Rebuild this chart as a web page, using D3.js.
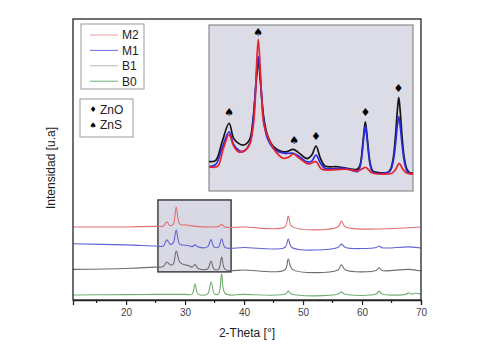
<!DOCTYPE html>
<html>
<head>
<meta charset="utf-8">
<script src="https://cdn.jsdelivr.net/npm/d3@7"></script>
<style>
  body { margin: 0; background: #fff; }
  svg { font-family: "Liberation Sans", Arial, sans-serif; }
</style>
</head>
<body>
<svg id="chart" width="489" height="352"></svg>
<script>
// main pattern, [2-theta, intensity] (stacked offsets included)
const b0Points = [[11,1.8],[20,1.9],[25,2.0],[30,2.0],[31.2,2.1],[31.7,5.7],[32.2,2.1],[33.8,2.1],[34.4,6.4],[35.0,2.1],[35.7,2.3],[36.2,9.3],[36.8,2.3],[40,2.0],[47.0,2.1],[47.5,3.2],[48.0,2.1],[56.0,2.1],[56.5,2.9],[57.0,2.1],[62.4,2.1],[62.9,3.2],[63.4,2.1],[67.5,2.1],[67.9,2.6],[68.3,2.1],[69.2,2.4],[70,2.0]]
const b1Points = [[11,10.9],[20,11.2],[25,11.7],[26.3,11.9],[26.9,13.5],[27.5,12.5],[28.0,12.8],[28.5,17.4],[29.1,13.5],[29.8,12.6],[30.5,12.3],[31.2,11.7],[31.7,12.6],[32.2,11.2],[33.8,11.0],[34.4,13.9],[34.9,11.0],[35.7,11.0],[36.2,15.3],[36.8,10.9],[40,10.7],[46.9,10.7],[47.5,14.6],[48.2,10.9],[55.9,10.7],[56.5,12.5],[57.2,10.7],[62.4,10.5],[62.9,11.5],[63.4,10.5],[67.9,10.9],[70,10.3]]
const m1Points = [[11,20.0],[20,19.6],[25,19.2],[26.3,19.2],[26.9,21.4],[27.5,19.8],[28.0,20.3],[28.5,24.9],[29.1,19.9],[30.5,19.4],[31.2,19.0],[31.7,19.6],[32.2,18.9],[33.8,18.9],[34.4,21.5],[34.9,18.9],[35.7,18.9],[36.2,21.8],[36.8,18.7],[40,18.7],[46.9,18.7],[47.5,21.7],[48.1,18.7],[55.9,18.7],[56.5,19.9],[57.2,18.7],[62.4,18.7],[62.9,19.2],[63.4,18.6],[67.9,18.9],[70,18.5]]
const m2Points = [[11,26.0],[20,26.0],[25,26.2],[26.3,26.3],[26.9,27.8],[27.4,26.5],[28.0,26.9],[28.5,33.1],[29.1,27.0],[30.2,26.7],[31.5,26.3],[35.7,26.2],[36.2,26.9],[36.7,26.0],[40,26.0],[46.9,26.0],[47.5,29.9],[48.1,26.2],[55.9,26.0],[56.5,28.1],[57.2,26.0],[70,26.0]]

// inset (zoomed 2-theta region)
const insetB1 = [[25.83,17.7],[26.2,18.5],[26.55,29.7],[26.93,40.8],[27.18,31.7],[27.45,28.7],[27.73,27.7],[28.05,31],[28.23,42],[28.43,68],[28.53,78.9],[28.63,68],[28.83,44],[29.03,33.7],[29.36,26.7],[29.82,23.7],[30.1,23.7],[30.45,25.1],[30.8,22.5],[31.2,19.5],[31.45,21.5],[31.69,27.1],[31.92,20],[32.18,15.1],[32.89,14.6],[33.6,13.2],[33.97,13.2],[34.11,16],[34.23,26],[34.32,36],[34.39,41.7],[34.46,36],[34.55,26],[34.67,16],[34.81,12],[35.5,11.0],[35.62,11.2],[35.77,13],[35.92,20],[36.04,33],[36.14,48],[36.22,56.4],[36.3,48],[36.4,33],[36.52,20],[36.67,13],[36.82,11.0],[37.0,10.7]]
const insetM1 = [[25.83,14.6],[26.2,16],[26.55,26],[26.93,35.7],[27.18,28],[27.45,24.5],[27.7,23.7],[28.05,28.5],[28.23,40],[28.43,70],[28.53,80.9],[28.63,70],[28.83,42],[29.03,31.7],[29.45,24.7],[30.0,22.7],[30.45,22.7],[30.8,20.5],[31.2,17.5],[31.45,18],[31.69,21.7],[31.92,17],[32.18,13.7],[33.28,13.7],[33.97,11.8],[34.11,15],[34.23,24],[34.32,34],[34.39,39.2],[34.46,34],[34.55,24],[34.67,15],[34.81,11.2],[35.62,11.2],[35.77,12.5],[35.92,18],[36.04,28],[36.14,39],[36.22,44.8],[36.3,39],[36.4,28],[36.52,18],[36.67,12],[36.82,10.5],[37.0,10.2]]
const insetM2 = [[25.83,14.6],[26.3,14.8],[26.6,25],[26.93,34],[27.18,27],[27.45,23.5],[27.65,23.7],[27.95,26],[28.11,29.7],[28.26,39.8],[28.35,52],[28.43,75],[28.53,91.4],[28.63,75],[28.72,55],[28.84,39.8],[29.17,29.7],[29.48,23.7],[29.9,19.7],[30.2,20.5],[30.45,22.3],[30.8,19.5],[31.27,16.3],[31.69,17.7],[32.0,13.1],[33.28,13.1],[34.0,12.2],[34.25,13.5],[34.39,14.3],[34.55,13],[34.74,11.0],[35.84,10.7],[36.05,13],[36.24,16.7],[36.45,13],[36.65,10.8],[37.0,10.2]]

const phaseMarks = [
  {x: 26.93, y: 47.2, phase: "ZnS"},
  {x: 28.53, y: 95.4, phase: "ZnS"},
  {x: 30.5, y: 30.7, phase: "ZnS"},
  {x: 31.69, y: 33.1, phase: "ZnO"},
  {x: 34.39, y: 47.2, phase: "ZnO"},
  {x: 36.2, y: 61.9, phase: "ZnO"}
]

const seriesNames = ["M2", "M1", "B1", "B0"]
const xTicks = [20, 30, 40, 50, 60, 70]
const xMinorTicks = [15, 25, 35, 45, 55, 65]
const zoomWindow = [25.4, 37.8]   // theta range of the framed box
const zoomIntensity = [10.0, 35.6]
const insetDomain = [25.83, 37.0]

const mainColors = {M2: "#e27070", M1: "#6262d4", B1: "#6e6e6e", B0: "#72ae72"}
const insetColors = {M2: "#e8222a", M1: "#2a2ae0", B1: "#151515"}
const legendColors = {M2: "#eba0a0", M1: "#6b6bd6", B1: "#b5b5b5", B0: "#73ad73"}
const glyph = {ZnO: "\u2666", ZnS: "\u2660"}

const svg = d3.select("#chart")
const margin = {top: 19, right: 68, bottom: 52, left: 73}
const W = 489, H = 352

const x = d3.scaleLinear().domain([11, 70]).range([margin.left, W - margin.right])
const y = d3.scaleLinear().domain([0, 100]).range([H - margin.bottom, margin.top])

const line = d3.line()
  .x(d => x(d[0]))
  .y(d => y(d[1]))
  .curve(d3.curveCatmullRom.alpha(0.5))

// zoom box in main plot
svg.append("rect")
  .attr("x", x(zoomWindow[0]))
  .attr("y", y(zoomIntensity[1]))
  .attr("width", x(zoomWindow[1]) - x(zoomWindow[0]))
  .attr("height", y(zoomIntensity[0]) - y(zoomIntensity[1]))
  .attr("fill", "#d9d9e5")
  .attr("stroke", "#333")
  .attr("stroke-width", 1.4)

const mainSeries = [
  {name: "M2", pts: m2Points},
  {name: "M1", pts: m1Points},
  {name: "B1", pts: b1Points},
  {name: "B0", pts: b0Points}
]

svg.append("g").selectAll("path")
  .data(mainSeries)
  .enter().append("path")
  .attr("d", d => line(d.pts))
  .attr("fill", "none")
  .attr("stroke", d => mainColors[d.name])
  .attr("stroke-width", 1.1)

// frame
svg.append("rect")
  .attr("x", margin.left)
  .attr("y", margin.top)
  .attr("width", W - margin.left - margin.right)
  .attr("height", H - margin.top - margin.bottom)
  .attr("fill", "none")
  .attr("stroke", "#222")
  .attr("stroke-width", 1.3)

// x axis
const xAxis = svg.append("g")
  .attr("transform", "translate(0," + (H - margin.bottom) + ")")
  .call(d3.axisBottom(x).tickValues(xTicks).tickSize(5).tickPadding(4))
xAxis.select(".domain").attr("stroke", "#222").attr("stroke-width", 1.3)
xAxis.selectAll(".tick line").attr("stroke", "#222").attr("stroke-width", 1.2)
xAxis.selectAll("text")
  .attr("font-family", "Liberation Sans, Arial, sans-serif")
  .attr("font-size", 10)
  .attr("fill", "#444")

svg.append("g").selectAll("line")
  .data(xMinorTicks)
  .enter().append("line")
  .attr("x1", d => x(d)).attr("x2", d => x(d))
  .attr("y1", H - margin.bottom).attr("y2", H - margin.bottom + 3)
  .attr("stroke", "#222")
  .attr("stroke-width", 1.2)

svg.append("text")
  .attr("x", (x(11) + x(70)) / 2)
  .attr("y", 337)
  .attr("text-anchor", "middle")
  .attr("font-size", 12)
  .attr("fill", "#222")
  .text("2-Theta [°]")

svg.append("text")
  .attr("transform", "translate(55,168) rotate(-90)")
  .attr("text-anchor", "middle")
  .attr("font-size", 12)
  .attr("fill", "#222")
  .text("Intensidad [u.a]")

// inset
const inset = {x0: 209, x1: 413, y0: 25, y1: 191}
const xi = d3.scaleLinear().domain(insetDomain).range([inset.x0, inset.x1])
const yi = d3.scaleLinear().domain([0, 100]).range([inset.y1, inset.y0])
const insetLine = d3.line()
  .x(d => xi(d[0]))
  .y(d => yi(d[1]))
  .curve(d3.curveCatmullRom.alpha(0.5))

svg.append("rect")
  .attr("x", inset.x0).attr("y", inset.y0)
  .attr("width", inset.x1 - inset.x0)
  .attr("height", inset.y1 - inset.y0)
  .attr("fill", "#dcdce7")
  .attr("stroke", "#8a8a8a")
  .attr("stroke-width", 1.2)

const insetSeries = [
  {name: "B1", pts: insetB1},
  {name: "M1", pts: insetM1},
  {name: "M2", pts: insetM2}
]
svg.append("g").selectAll("path")
  .data(insetSeries)
  .enter().append("path")
  .attr("d", d => insetLine(d.pts))
  .attr("fill", "none")
  .attr("stroke", d => insetColors[d.name])
  .attr("stroke-width", 1.7)
  .attr("stroke-linejoin", "round")

svg.append("g").selectAll("text")
  .data(phaseMarks)
  .enter().append("text")
  .attr("x", d => xi(d.x))
  .attr("y", d => yi(d.y))
  .attr("dy", "0.35em")
  .attr("text-anchor", "middle")
  .attr("font-family", "DejaVu Sans, sans-serif")
  .attr("font-size", 11)
  .attr("fill", "#000")
  .text(d => glyph[d.phase])

// series legend
const leg = svg.append("g")
leg.append("rect")
  .attr("x", 81).attr("y", 24).attr("width", 63).attr("height", 65)
  .attr("fill", "#fff").attr("stroke", "#9a9a9a").attr("stroke-width", 1)
const legItems = leg.selectAll(".legend-item")
  .data(seriesNames)
  .enter().append("g")
  .attr("class", "legend-item")
  .attr("transform", (d, i) => "translate(0," + (35 + i * 15.4) + ")")
legItems.append("line")
  .attr("x1", 90).attr("x2", 118)
  .attr("stroke", d => legendColors[d])
  .attr("stroke-width", 1)
legItems.append("text")
  .attr("x", 122)
  .attr("dy", "0.36em")
  .attr("font-size", 12)
  .attr("fill", "#222")
  .text(d => d)

// phase legend
const leg2 = svg.append("g")
leg2.append("rect")
  .attr("x", 80).attr("y", 99).attr("width", 53).attr("height", 38)
  .attr("fill", "#fff").attr("stroke", "#9a9a9a").attr("stroke-width", 1)
const phaseItems = leg2.selectAll(".phase-item")
  .data(["ZnO", "ZnS"])
  .enter().append("g")
  .attr("transform", (d, i) => "translate(0," + (109.5 + i * 15.5) + ")")
phaseItems.append("text")
  .attr("x", 93)
  .attr("dy", "0.36em")
  .attr("text-anchor", "middle")
  .attr("font-family", "DejaVu Sans, sans-serif")
  .attr("font-size", 8)
  .text(d => glyph[d])
phaseItems.append("text")
  .attr("x", 100)
  .attr("dy", "0.36em")
  .attr("font-size", 12)
  .attr("fill", "#222")
  .text(d => d)
</script>
</body>
</html>
